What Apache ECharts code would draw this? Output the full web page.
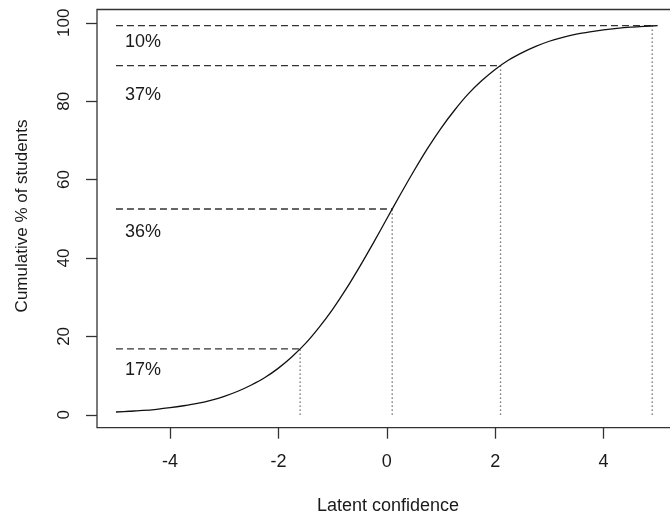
<!DOCTYPE html>
<html>
<head>
<meta charset="utf-8">
<script src="https://cdn.jsdelivr.net/npm/echarts@6/dist/echarts.min.js"></script>
<style>
html,body{margin:0;padding:0;background:#fff;overflow:hidden;width:670px;height:517px;}
#chart{width:690px;height:517px;}
</style>
</head>
<body>
<div id="chart"></div>
<script>
// Curve
const curveX = [-5,-4.75,-4.5,-4.25,-4,-3.75,-3.5,-3.25,-3,-2.75,-2.5,-2.25,-2,-1.75,-1.5,-1.25,-1,-0.75,-0.5,-0.25,0,
                0.25,0.5,0.75,1,1.25,1.5,1.75,2,2.25,2.5,2.75,3,3.25,3.5,3.75,4,4.25,4.5,4.75,5];
const curveY = [0.7,0.9,1.1,1.4,1.8,2.3,2.9,3.7,4.7,6.0,7.6,9.5,11.9,14.8,18.2,22.3,26.9,32.1,37.8,43.8,50.0,
                56.2,62.2,67.9,73.1,77.7,81.8,85.2,88.1,90.5,92.4,94.0,95.3,96.3,97.1,97.7,98.2,98.6,98.9,99.1,99.3];
// Cut points
const cutX = [-1.6, 0.1, 2.1, 4.9];
const cutY = [16.8, 52.5, 89.1, 99.3];
const lineStartX = -5;
// Band labels
const bandLabels = ['17%', '36%', '37%', '10%'];
const labelX = [-4.5, -4.5, -4.5, -4.5];
const labelY = [11.5, 46.7, 81.6, 95.2];
// Axis ticks
const xTicks = [-4, -2, 0, 2, 4];
const yTicks = [0, 20, 40, 60, 80, 100];
const xTitle = 'Latent confidence';
const yTitle = 'Cumulative % of students';

const FONT = "'Liberation Sans', Arial, Helvetica, sans-serif";
const INK = '#1a1a1a';

const chart = echarts.init(document.getElementById('chart'), null, {renderer: 'canvas'});

const series = [];
series.push({
  type: 'line',
  data: curveX.map((x, i) => [x, curveY[i]]),
  smooth: 0.3,
  showSymbol: false,
  symbol: 'none',
  lineStyle: {color: '#111', width: 1.3},
  z: 5,
  silent: true
});
cutX.forEach((cx, i) => {
  series.push({
    type: 'line',
    data: [[lineStartX, cutY[i]], [cx, cutY[i]]],
    symbol: 'none',
    lineStyle: {color: '#333', width: 1.3, type: [7, 4]},
    silent: true,
    z: 3
  });
  series.push({
    type: 'line',
    data: [[cx, 0], [cx, cutY[i]]],
    symbol: 'none',
    lineStyle: {color: '#555', width: 1.3, type: [1.3, 2.7]},
    silent: true,
    z: 3
  });
});
series.push({
  type: 'scatter',
  data: bandLabels.map((t, i) => [labelX[i], labelY[i], t]),
  symbolSize: 0,
  itemStyle: {color: INK, opacity: 1},
  label: {
    show: true,
    position: 'inside',
    formatter: p => p.data[2],
    color: INK,
    fontSize: 18,
    fontFamily: FONT,
    opacity: 1
  },
  silent: true,
  z: 6
});

const option = {
  animation: false,
  backgroundColor: '#fff',
  grid: {
    left: 97, top: 9.5, width: 582.3, height: 418.2,
    show: true, borderColor: '#333', borderWidth: 1.3, backgroundColor: 'transparent'
  },
  xAxis: {
    type: 'value', min: -5.35, max: 5.4,
    axisLine: {show: false, onZero: false},
    splitLine: {show: false},
    axisTick: {show: true, length: 11, customValues: xTicks, lineStyle: {color: '#333', width: 1.3}},
    axisLabel: {customValues: xTicks, margin: 25, color: INK, fontSize: 18, fontFamily: FONT, showMinLabel: true, showMaxLabel: true}
  },
  yAxis: {
    type: 'value', min: -3.3, max: 103.4,
    axisLine: {show: false, onZero: false},
    splitLine: {show: false},
    axisTick: {show: true, length: 11, customValues: yTicks, lineStyle: {color: '#333', width: 1.3}},
    axisLabel: {customValues: yTicks, rotate: 90, margin: 24.5, color: INK, fontSize: 17, fontFamily: FONT, showMinLabel: true, showMaxLabel: true}
  },
  graphic: [
    {type: 'text', x: 388, y: 506.5, style: {text: xTitle, fill: INK, font: '18px ' + FONT, textAlign: 'center', textVerticalAlign: 'middle'}},
    {type: 'text', x: 22.5, y: 216, rotation: Math.PI / 2, style: {text: yTitle, fill: INK, font: '17px ' + FONT, textAlign: 'center', textVerticalAlign: 'middle'}}
  ],
  series: series
};
chart.setOption(option);
</script>
</body>
</html>
